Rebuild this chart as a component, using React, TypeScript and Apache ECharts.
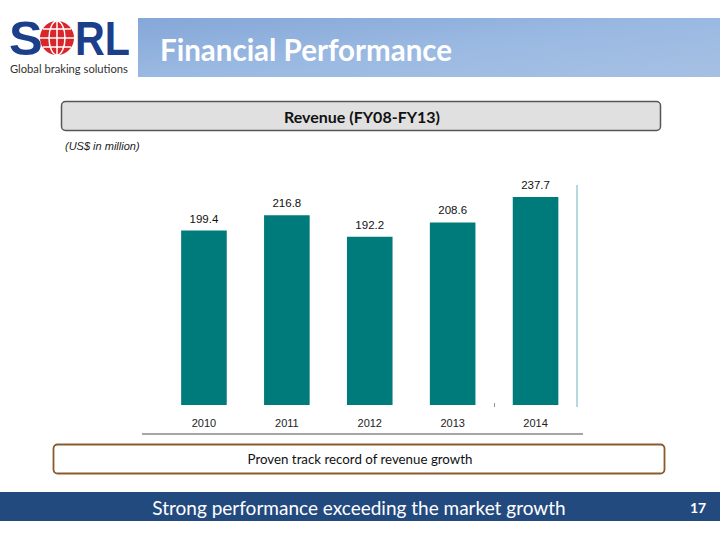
import React, { useEffect, useRef } from "react";
import * as echarts from "echarts";

const categories = ["2010", "2011", "2012", "2013", "2014"];
const revenue = [199.4, 216.8, 192.2, 208.6, 237.7];

const pageTitle = "Financial Performance";
const boxTitle = "Revenue (FY08-FY13)";
const unitNote = "(US$ in million)";
const caption = "Proven track record of revenue growth";
const footer = "Strong performance exceeding the market growth";
const pageNo = "17";

export default function App() {
  const ref = useRef<HTMLDivElement>(null);
  useEffect(() => {
    if (!ref.current) return;
    const chart = echarts.init(ref.current, null, { renderer: "svg" });
    const globeCx = 57;
    const globeCy = 38;
    const globeR = 17;
    chart.setOption({
      animation: false,
      backgroundColor: "#ffffff",
      grid: { left: 162.5, right: 143, top: 186.25, bottom: 135 },
      xAxis: {
        type: "category",
        data: categories,
        axisLine: { show: false },
        axisTick: { show: false },
        axisLabel: {
          margin: 12,
          fontFamily: "Liberation Sans",
          fontSize: 11,
          color: "#222",
        },
      },
      yAxis: {
        type: "value",
        min: 0,
        max: 250,
        show: false,
        splitLine: { show: false },
      },
      series: [
        {
          type: "bar",
          data: revenue,
          barCategoryGap: "45%",
          itemStyle: { color: "#007b7b" },
          label: {
            show: true,
            position: "top",
            distance: 6,
            fontFamily: "Liberation Sans",
            fontSize: 11.5,
            color: "#111",
            formatter: (p: any) => p.value.toFixed(1),
          },
        },
      ],
      graphic: [
        // header banner
        {
          type: "rect",
          shape: { x: 138, y: 18, width: 582, height: 59 },
          style: {
            fill: new echarts.graphic.LinearGradient(0, 0, 1, 1, [
              { offset: 0, color: "#85a7d8" },
              { offset: 0.5, color: "#9ab9e2" },
              { offset: 1, color: "#a6c0e3" },
            ]),
          },
        },
        {
          type: "text",
          x: 160,
          y: 49,
          style: {
            text: pageTitle,
            fill: "#ffffff",
            font: "bold 29.5px Lato",
            textVerticalAlign: "middle",
          },
        },
        // logo
        {
          type: "text",
          x: 9,
          y: 38,
          scaleX: 1.05,
          style: {
            text: "S",
            fill: "#1c3f8c",
            font: "bold 48px 'Liberation Sans'",
            textVerticalAlign: "middle",
          },
        },
        {
          type: "text",
          x: 75,
          y: 38,
          scaleX: 0.86,
          style: {
            text: "RL",
            fill: "#1c3f8c",
            font: "bold 48px 'Liberation Sans'",
            textVerticalAlign: "middle",
          },
        },
        {
          type: "circle",
          shape: { cx: globeCx, cy: globeCy, r: globeR },
          style: { fill: "#d8262b" },
        },
        {
          type: "ellipse",
          shape: { cx: globeCx, cy: globeCy, rx: 8, ry: globeR },
          style: { fill: "none", stroke: "#ffffff", lineWidth: 1.5 },
        },
        {
          type: "line",
          shape: { x1: globeCx, y1: globeCy - globeR, x2: globeCx, y2: globeCy + globeR },
          style: { stroke: "#ffffff", lineWidth: 1.5 },
        },
        {
          type: "line",
          shape: { x1: globeCx - globeR, y1: globeCy, x2: globeCx + globeR, y2: globeCy },
          style: { stroke: "#ffffff", lineWidth: 1.5 },
        },
        {
          type: "line",
          shape: { x1: globeCx - 14, y1: globeCy - 9, x2: globeCx + 14, y2: globeCy - 9 },
          style: { stroke: "#ffffff", lineWidth: 1.5 },
        },
        {
          type: "line",
          shape: { x1: globeCx - 14, y1: globeCy + 9, x2: globeCx + 14, y2: globeCy + 9 },
          style: { stroke: "#ffffff", lineWidth: 1.5 },
        },
        {
          type: "text",
          x: 10,
          y: 68,
          style: {
            text: "Global braking solutions",
            fill: "#333",
            font: "11.2px Lato",
            textVerticalAlign: "middle",
          },
        },
        // revenue title box
        {
          type: "rect",
          shape: { x: 61.5, y: 101.5, width: 599, height: 29, r: 4 },
          style: { fill: "#e0e0e0", stroke: "#555", lineWidth: 1.5 },
        },
        {
          type: "text",
          x: 362,
          y: 116,
          style: {
            text: boxTitle,
            fill: "#111",
            font: "bold 16px Lato",
            textAlign: "center",
            textVerticalAlign: "middle",
          },
        },
        {
          type: "text",
          x: 65,
          y: 146,
          style: {
            text: unitNote,
            fill: "#222",
            font: "italic 11px 'Liberation Sans'",
            textVerticalAlign: "middle",
          },
        },
        // chart frame lines
        {
          type: "line",
          shape: { x1: 577, y1: 185, x2: 577, y2: 407 },
          style: { stroke: "#6fb3bb", lineWidth: 1 },
        },
        {
          type: "line",
          shape: { x1: 494.5, y1: 403, x2: 494.5, y2: 407 },
          style: { stroke: "#999", lineWidth: 1 },
        },
        {
          type: "line",
          shape: { x1: 142, y1: 434, x2: 583, y2: 434 },
          style: { stroke: "#888", lineWidth: 1.5 },
        },
        // caption box
        {
          type: "rect",
          shape: { x: 53.5, y: 444.5, width: 611, height: 29, r: 4 },
          style: { fill: "#ffffff", stroke: "#8a5a2e", lineWidth: 1.8 },
        },
        {
          type: "text",
          x: 360,
          y: 459,
          style: {
            text: caption,
            fill: "#111",
            font: "13.3px Lato",
            textAlign: "center",
            textVerticalAlign: "middle",
          },
        },
        // footer
        {
          type: "rect",
          shape: { x: 0, y: 492, width: 720, height: 29 },
          style: { fill: "#234a7e" },
        },
        {
          type: "text",
          x: 359,
          y: 507,
          style: {
            text: footer,
            fill: "#ffffff",
            font: "19px Lato",
            textAlign: "center",
            textVerticalAlign: "middle",
          },
        },
        {
          type: "text",
          x: 698,
          y: 507,
          style: {
            text: pageNo,
            fill: "#ffffff",
            font: "bold 14px Lato",
            textAlign: "center",
            textVerticalAlign: "middle",
          },
        },
      ],
    });
    return () => chart.dispose();
  }, []);
  return (
    <div
      ref={ref}
      style={{ position: "fixed", left: 0, top: 0, width: 720, height: 540 }}
    />
  );
}
